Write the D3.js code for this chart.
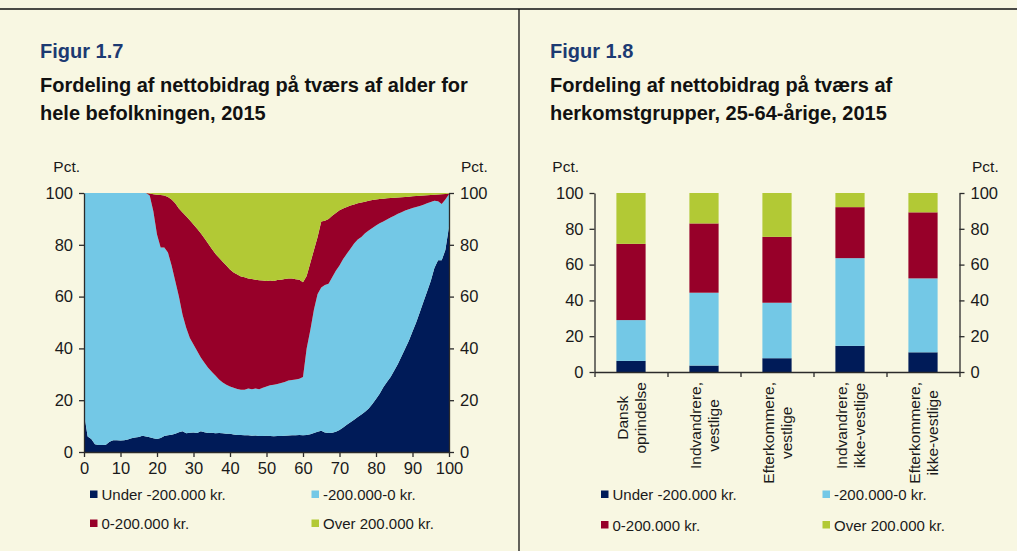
<!DOCTYPE html>
<html>
<head>
<meta charset="utf-8">
<script src="https://cdn.jsdelivr.net/npm/d3@7"></script>
<style>
  body { margin: 0; background: #f8f7e2; }
  svg { display: block; font-family: "Liberation Sans", Arial, sans-serif; }
  .axis path, .axis line { stroke: #2b2b2b; stroke-width: 1.3; }
  .axis text { fill: #1a1a1a; font-size: 16.5px; font-family: "Liberation Sans", Arial, sans-serif; }
</style>
</head>
<body>
<div id="chart"></div>
<script>
// ---- data ----
const ages = d3.range(0, 101)

const under = [15, 6, 5, 3, 2.7, 2.7, 2.8, 4, 4.5, 4.5, 4.4, 4.5, 4.8, 5.3, 5.6, 5.8, 6.3, 6, 5.7, 5.3,
  5, 5.4, 6.2, 6.5, 6.7, 7, 7.6, 8, 7.2, 7.4, 7.5, 7.3, 8, 7.6, 7.3, 7.4, 7.2, 7.3, 7.2, 7,
  7, 6.8, 6.6, 6.6, 6.5, 6.5, 6.3, 6.4, 6.2, 6.2, 6.3, 6.2, 6.1, 6.2, 6.2, 6.3, 6.4, 6.5, 6.5, 6.6,
  6.5, 6.6, 6.9, 7.3, 7.8, 8.2, 7.5, 7.3, 7.4, 7.8, 8.5, 9.5, 10.5, 11.5, 12.5, 13.5, 14.5, 15.5, 16.8, 18.5,
  20.5, 22.5, 25, 27, 29, 31.5, 34, 37, 40, 43, 46.5, 50, 54, 58, 62, 66, 71, 74, 74, 78, 87]

const negative = [85, 94, 95, 97, 97.3, 97.3, 97.2, 96, 95.5, 95.5, 95.6, 95.5, 95.2, 94.7, 94.4, 94.2, 93.7, 94, 93.3, 87.7,
  79, 73.6, 72.8, 70.5, 65.3, 59, 52.4, 45, 40.8, 36.6, 34, 31.7, 28.5, 26.9, 25.2, 23.6, 22.3, 20.7, 19.6, 19,
  18.3, 18, 17.7, 17.4, 17.5, 18, 17.9, 18.1, 18, 18.6, 19, 19.6, 19.9, 20.1, 20.4, 20.7, 21.2, 21.3, 21.5, 21.7,
  22.5, 33.4, 40.1, 47.7, 53.2, 55.3, 57, 57.7, 60.1, 62.2, 63.5, 65, 66, 67, 68, 68.5, 68.5, 69, 68.7, 68,
  67, 65.8, 64, 62.8, 61.5, 59.7, 58, 55.6, 53.2, 50.7, 47.7, 44.6, 41, 37.5, 34, 30.5, 26, 22.8, 21.8, 19.5, 12.5]

const positive = [0, 0, 0, 0, 0, 0, 0, 0, 0, 0, 0, 0, 0, 0, 0, 0, 0, 0, 0.8, 6.5,
  15.3, 20.2, 20, 21.5, 25.5, 30, 34, 39.5, 43, 45.5, 46.3, 47.2, 48, 48, 48, 47.5, 47, 47, 46.7, 46,
  45.2, 44.5, 44.2, 43.8, 43.5, 42.5, 42.6, 42, 42.1, 41.4, 40.7, 40.4, 40, 40.1, 39.9, 39.8, 39.4, 39.2, 38.7, 38.2,
  36.5, 28, 26, 23, 22, 25.5, 24.8, 25, 23.7, 22.3, 21.3, 19.5, 18.1, 16.7, 15.1, 14, 13.3, 12.1, 11.5, 10.8,
  10, 9.4, 8.8, 8.2, 7.6, 7, 6.3, 5.8, 5.3, 4.9, 4.5, 4.2, 3.9, 3.5, 3.1, 2.7, 2.3, 2.6, 3.7, 2.1, 0.3]

const over = [0, 0, 0, 0, 0, 0, 0, 0, 0, 0, 0, 0, 0, 0, 0, 0, 0, 0, 0.2, 0.5,
  0.7, 0.8, 1, 1.5, 2.5, 4, 6, 7.5, 9, 10.5, 12.2, 13.8, 15.5, 17.5, 19.5, 21.5, 23.5, 25, 26.5, 28,
  29.5, 30.7, 31.5, 32.2, 32.5, 33, 33.2, 33.5, 33.7, 33.8, 34, 33.8, 34, 33.6, 33.5, 33.2, 33, 33, 33.3, 33.5,
  34.5, 32, 27, 22, 17, 11, 10.7, 10, 8.8, 7.7, 6.7, 6, 5.4, 4.8, 4.4, 4, 3.7, 3.4, 3, 2.7,
  2.5, 2.3, 2.2, 2, 1.9, 1.8, 1.7, 1.6, 1.5, 1.4, 1.3, 1.2, 1.1, 1, 0.9, 0.8, 0.7, 0.6, 0.5, 0.4, 0.2]

const groups = [['Dansk', 'oprindelse'], ['Indvandrere,', 'vestlige'], ['Efterkommere,', 'vestlige'],
  ['Indvandrere,', 'ikke-vestlige'], ['Efterkommere,', 'ikke-vestlige']]
const groupUnder = [6.2, 3.6, 7.7, 14.6, 11]
const groupNegative = [22.8, 40.7, 31, 49, 41.3]
const groupPositive = [42.6, 38.7, 36.8, 28.5, 36.9]
const groupOver = [28.4, 17, 24.5, 7.9, 10.8]

const keys = ['under', 'negative', 'positive', 'over']
const legendLabels = ['Under -200.000 kr.', '-200.000-0 kr.', '0-200.000 kr.', 'Over 200.000 kr.']
const colors = ['#001b58', '#73c8e6', '#970029', '#b2c935']
const yTicks = [0, 20, 40, 60, 80, 100]
const xTicks = d3.range(0, 101, 10)

const width = 1017
const height = 551

const color = d3.scaleOrdinal().domain(keys).range(colors)

const svg = d3.select('#chart').append('svg')
  .attr('width', width)
  .attr('height', height)

svg.append('rect').attr('width', width).attr('height', height).attr('fill', '#f8f7e2')

// frame lines
svg.append('line').attr('x1', 0).attr('x2', width).attr('y1', 9).attr('y2', 9)
  .attr('stroke', '#111').attr('stroke-width', 1.3)
svg.append('line').attr('x1', 519).attr('x2', 519).attr('y1', 9).attr('y2', height)
  .attr('stroke', '#111').attr('stroke-width', 1.3)

// titles
function title(x, fig, lines) {
  svg.append('text').attr('x', x).attr('y', 58)
    .attr('font-size', 20).attr('font-weight', 'bold').attr('fill', '#1c3a72')
    .text(fig)
  lines.forEach((t, i) => {
    svg.append('text').attr('x', x).attr('y', 92 + i * 28)
      .attr('font-size', 20).attr('font-weight', 'bold').attr('fill', '#111')
      .text(t)
  })
}
title(40, 'Figur 1.7', ['Fordeling af nettobidrag på tværs af alder for', 'hele befolkningen, 2015'])
title(550, 'Figur 1.8', ['Fordeling af nettobidrag på tværs af', 'herkomstgrupper, 25-64-årige, 2015'])

function pct(x, y, anchor) {
  svg.append('text').attr('x', x).attr('y', y).attr('text-anchor', anchor)
    .attr('font-size', 15.5).attr('fill', '#1a1a1a').text('Pct.')
}

function legend(x1, x2, y1, y2) {
  const pos = [[x1, y1], [x2, y1], [x1, y2], [x2, y2]]
  keys.forEach((k, i) => {
    const g = svg.append('g').attr('transform', 'translate(' + pos[i][0] + ',' + pos[i][1] + ')')
    g.append('rect').attr('x', 0).attr('y', -4).attr('width', 7.5).attr('height', 7.5).attr('fill', color(k))
    g.append('text').attr('x', 11.5).attr('y', 5.5).attr('font-size', 15).attr('fill', '#1a1a1a')
      .text(legendLabels[i])
  })
}

// ---- left chart: area by age ----
const left = { x0: 84, x1: 449, top: 193, bottom: 452 }

const ageData = ages.map((a, i) => ({ age: a, under: under[i], negative: negative[i], positive: positive[i], over: over[i] }))
const ageStack = d3.stack().keys(keys)(ageData)

const xAge = d3.scaleLinear().domain([0, 100]).range([left.x0, left.x1])
const yLeft = d3.scaleLinear().domain([0, 100]).range([left.bottom, left.top])

const area = d3.area()
  .x(d => xAge(d.data.age))
  .y0(d => yLeft(d[0]))
  .y1(d => yLeft(Math.min(100, d[1])))

svg.append('g').selectAll('path')
  .data(ageStack)
  .enter()
  .append('path')
  .attr('d', area)
  .attr('fill', d => color(d.key))

svg.append('g').attr('class', 'axis')
  .attr('transform', 'translate(' + left.x0 + ',0)')
  .call(d3.axisLeft(yLeft).tickValues(yTicks).tickSize(5).tickSizeOuter(0).tickPadding(6))
svg.append('g').attr('class', 'axis')
  .attr('transform', 'translate(' + left.x1 + ',0)')
  .call(d3.axisRight(yLeft).tickValues(yTicks).tickSize(5).tickSizeOuter(0).tickPadding(6))
svg.append('g').attr('class', 'axis')
  .attr('transform', 'translate(0,' + left.bottom + ')')
  .call(d3.axisBottom(xAge).tickValues(xTicks).tickSize(5).tickSizeOuter(0).tickPadding(5))

pct(80, 172, 'end')
pct(461, 172, 'start')
legend(90, 311.5, 494.5, 523.5)

// ---- right chart: stacked bars ----
const right = { x0: 594.5, x1: 959.5, top: 193, bottom: 372 }

const groupData = groups.map((g, i) => ({ i: i, under: groupUnder[i], negative: groupNegative[i], positive: groupPositive[i], over: groupOver[i] }))
const groupStack = d3.stack().keys(keys)(groupData)

const xBand = d3.scaleBand().domain(d3.range(groups.length)).range([right.x0, right.x1])
const xEdge = d3.scaleLinear().domain([0, groups.length]).range([right.x0, right.x1])
const yRight = d3.scaleLinear().domain([0, 100]).range([right.bottom, right.top])
const barW = xBand.bandwidth() * 0.4

svg.append('g').selectAll('g')
  .data(groupStack)
  .enter()
  .append('g')
  .attr('fill', d => color(d.key))
  .selectAll('rect')
  .data(d => d)
  .enter()
  .append('rect')
  .attr('x', d => xBand(d.data.i) + (xBand.bandwidth() - barW) / 2)
  .attr('y', d => yRight(Math.min(100, d[1])))
  .attr('width', barW)
  .attr('height', d => yRight(d[0]) - yRight(Math.min(100, d[1])))

svg.append('g').attr('class', 'axis')
  .attr('transform', 'translate(' + right.x0 + ',0)')
  .call(d3.axisLeft(yRight).tickValues(yTicks).tickSize(5).tickSizeOuter(0).tickPadding(6))
svg.append('g').attr('class', 'axis')
  .attr('transform', 'translate(' + right.x1 + ',0)')
  .call(d3.axisRight(yRight).tickValues(yTicks).tickSize(5).tickSizeOuter(0).tickPadding(6))
svg.append('g').attr('class', 'axis')
  .attr('transform', 'translate(0,' + right.bottom + ')')
  .call(d3.axisBottom(xEdge).tickValues(d3.range(groups.length + 1)).tickFormat('').tickSize(5).tickSizeOuter(0))

// rotated category labels
groups.forEach((lines, i) => {
  const cx = xBand(i) + xBand.bandwidth() / 2
  const g = svg.append('g')
  const texts = lines.map((t, j) => g.append('text')
    .attr('font-size', 15.5).attr('fill', '#1a1a1a')
    .attr('text-anchor', 'middle')
    .text(t))
  const maxW = d3.max(texts, t => t.node().getComputedTextLength())
  const cy = 382 + maxW / 2
  texts.forEach((t, j) => {
    const tx = cx + (j - (lines.length - 1) / 2) * 18 + 5.5
    t.attr('transform', 'translate(' + tx + ',' + cy + ') rotate(-90)')
  })
})

pct(579, 172, 'end')
pct(972, 172, 'start')
legend(601, 822.5, 494.5, 525)
</script>
</body>
</html>
